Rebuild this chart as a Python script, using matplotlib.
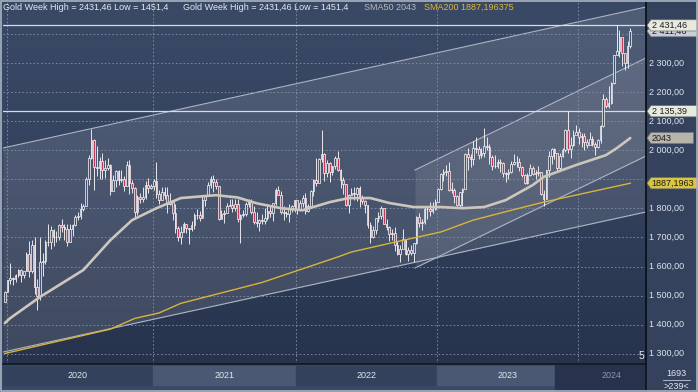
import numpy as np
import matplotlib
matplotlib.use("Agg")
import matplotlib.pyplot as plt
from matplotlib.patches import Polygon, Rectangle
from matplotlib.colors import LinearSegmentedColormap
from matplotlib.transforms import blended_transform_factory

plt.rcParams['font.family'] = ['Liberation Sans', 'DejaVu Sans']

# ---------------- data (weekly gold OHLC) ----------------
first_open = 1478.0
# last week of 2019
high_2019 = [1514]
low_2019 = [1478]
close_2019 = [1511]
# 2020 (54 bars)
high_2020 = [1555, 1611, 1563, 1575, 1590, 1591, 1584, 1649, 1689, 1692, 1703, 1558, 1703, 1645, 1690, 1747,
             1739, 1730, 1722, 1745, 1765, 1745, 1745, 1745, 1746, 1779, 1789, 1818, 1815, 1909, 1984, 2075,
             2040, 2016, 1976, 1992, 1966, 1973, 1955, 1917, 1933, 1933, 1932, 1911, 1965, 1966, 1898, 1875,
             1848, 1855, 1875, 1896, 1906, 1884]
low_2020 = [1517, 1540, 1536, 1546, 1563, 1547, 1562, 1584, 1563, 1576, 1504, 1451.4, 1484, 1567, 1610, 1672,
            1660, 1670, 1685, 1692, 1718, 1693, 1671, 1685, 1705, 1741, 1760, 1763, 1791, 1808, 1882, 1972,
            1863, 1911, 1903, 1901, 1906, 1933, 1848, 1873, 1873, 1882, 1890, 1860, 1877, 1850, 1854, 1764,
            1776, 1820, 1822, 1833, 1855, 1867]
close_2020 = [1552, 1562, 1557, 1571, 1589, 1570, 1584, 1643, 1585, 1674, 1530, 1498, 1617, 1620, 1683, 1683,
              1726, 1700, 1703, 1743, 1735, 1730, 1684, 1730, 1743, 1771, 1775, 1798, 1810, 1902, 1975, 2035,
              1944, 1940, 1964, 1934, 1940, 1950, 1862, 1899, 1930, 1899, 1902, 1879, 1951, 1888, 1871, 1788,
              1839, 1832, 1839, 1881, 1872, 1877]
# 2021 (53 bars)
high_2021 = [1900, 1959, 1865, 1875, 1875, 1875, 1855, 1824, 1816, 1739, 1740, 1755, 1745, 1733, 1758, 1785,
             1798, 1790, 1843, 1846, 1890, 1913, 1916, 1903, 1878, 1795, 1795, 1818, 1834, 1832, 1832, 1832,
             1782, 1795, 1823, 1834, 1834, 1809, 1787, 1765, 1781, 1800, 1814, 1813, 1818, 1870, 1877, 1859,
             1808, 1792, 1815, 1812, 1831]
low_2021 = [1863, 1835, 1817, 1829, 1832, 1785, 1812, 1761, 1717, 1687, 1676, 1718, 1714, 1678, 1724, 1730,
            1763, 1756, 1771, 1808, 1843, 1869, 1856, 1866, 1761, 1767, 1750, 1783, 1810, 1789, 1791, 1753,
            1682, 1770, 1773, 1806, 1782, 1745, 1737, 1721, 1746, 1745, 1759, 1770, 1758, 1812, 1845, 1782,
            1762, 1772, 1753, 1788, 1789]
close_2021 = [1895, 1849, 1828, 1856, 1848, 1814, 1824, 1784, 1734, 1700, 1719, 1745, 1732, 1729, 1744, 1777,
              1777, 1768, 1831, 1844, 1881, 1903, 1892, 1877, 1764, 1781, 1783, 1808, 1812, 1802, 1814, 1763,
              1779, 1781, 1817, 1827, 1787, 1754, 1750, 1761, 1757, 1768, 1793, 1783, 1818, 1864, 1846, 1788,
              1783, 1782, 1798, 1809, 1829]
# 2022 (52 bars)
high_2022 = [1831, 1831, 1848, 1853, 1815, 1865, 1902, 1974, 1973, 2070, 1993, 1966, 1960, 1948, 1982, 1998,
             1936, 1910, 1884, 1849, 1870, 1875, 1875, 1879, 1848, 1830, 1813, 1752, 1739, 1767, 1788, 1807,
             1802, 1765, 1740, 1729, 1735, 1688, 1675, 1730, 1690, 1667, 1675, 1682, 1774, 1786, 1765, 1805,
             1804, 1824, 1823, 1833]
low_2022 = [1782, 1791, 1805, 1780, 1788, 1807, 1842, 1878, 1890, 1960, 1895, 1910, 1890, 1915, 1937, 1931,
            1872, 1850, 1807, 1786, 1845, 1829, 1826, 1805, 1816, 1785, 1732, 1681, 1698, 1711, 1754, 1765,
            1745, 1727, 1688, 1691, 1654, 1639, 1615, 1660, 1640, 1618, 1638, 1617, 1678, 1737, 1727, 1748,
            1765, 1773, 1784, 1796]
close_2022 = [1797, 1818, 1835, 1791, 1808, 1859, 1898, 1889, 1970, 1988, 1921, 1958, 1925, 1946, 1975, 1932,
              1897, 1883, 1811, 1846, 1853, 1850, 1872, 1839, 1827, 1811, 1742, 1703, 1727, 1766, 1775, 1802,
              1747, 1737, 1712, 1716, 1675, 1644, 1660, 1695, 1644, 1657, 1645, 1681, 1771, 1751, 1755, 1797,
              1797, 1793, 1798, 1824]
# 2023 (52 bars)
high_2023 = [1870, 1922, 1937, 1949, 1960, 1891, 1870, 1848, 1858, 1870, 1990, 2009, 1988, 2032, 2048, 2015,
             2009, 2079, 2048, 2022, 1985, 1983, 1971, 1970, 1959, 1925, 1935, 1963, 1987, 1982, 1975, 1948,
             1918, 1922, 1953, 1945, 1932, 1947, 1925, 1865, 1933, 1997, 2009, 2007, 1993, 1993, 2008, 2075,
             2135.39, 2047, 2071, 2088]
low_2023 = [1824, 1865, 1896, 1911, 1861, 1853, 1819, 1809, 1805, 1810, 1867, 1934, 1944, 1950, 1992, 1969,
            1974, 1977, 2001, 1952, 1932, 1938, 1941, 1925, 1910, 1893, 1903, 1922, 1951, 1942, 1929, 1910,
            1885, 1885, 1913, 1915, 1901, 1913, 1846, 1810, 1834, 1908, 1953, 1970, 1931, 1933, 1976, 1995,
            1993, 1974, 2016, 2058]
close_2023 = [1866, 1920, 1926, 1928, 1865, 1865, 1842, 1811, 1856, 1868, 1989, 1978, 1969, 2008, 2004, 1983,
              1990, 2017, 2011, 1977, 1946, 1948, 1961, 1958, 1921, 1919, 1925, 1955, 1962, 1959, 1943, 1914,
              1889, 1914, 1940, 1919, 1924, 1925, 1849, 1833, 1932, 1981, 2006, 1993, 1940, 1981, 2002, 2072,
              2004, 2019, 2053, 2063]
# 2024 (20 bars)
high_2024 = [2079, 2062, 2059, 2041, 2065, 2050, 2031, 2041, 2088, 2195, 2183, 2222, 2236, 2330, 2431.46, 2417,
             2353, 2330, 2378, 2422]
low_2024 = [2024, 2013, 2002, 2010, 2031, 2015, 1984, 2010, 2025, 2080, 2146, 2146, 2160, 2229, 2331, 2324,
            2291, 2277, 2286, 2353]
close_2024 = [2045, 2049, 2029, 2018, 2039, 2024, 2013, 2035, 2083, 2179, 2155, 2165, 2233, 2330, 2344, 2391,
              2337, 2302, 2360, 2411.46]

years = [2020, 2021, 2022, 2023, 2024]

# moving averages (bar number, value)
sma50_bar = [0, 2, 13, 29, 39, 47, 56, 65, 78, 86, 93, 102, 110, 120, 127, 135, 142, 151, 161, 169, 177, 185,
             195, 199, 211, 222, 226, 231]
sma50_val = [1405, 1422, 1495, 1588, 1691, 1760, 1801, 1836, 1846, 1838, 1818, 1801, 1794, 1822, 1836, 1836,
             1819, 1805, 1805, 1801, 1805, 1829, 1881, 1909, 1950, 1984, 2008, 2043]
sma200_bar = [0, 39, 48, 57, 65, 95, 123, 128, 144, 161, 173, 190, 199, 231]
sma200_val = [1300, 1384, 1421, 1440, 1473, 1545, 1633, 1650, 1684, 1719, 1760, 1801, 1822, 1887.196375]

# drawn trend channels (bar number, price) at their two ends
chanA_bar = [-0.67, 236.8]
chanA_upper = [2008.6, 2494.8]
chanA_lower = [1305.0, 1788.0]
chanB_bar = [151.5, 236.8]
chanB_upper = [1932.8, 2319.0]
chanB_lower = [1594.8, 1981.0]

level_high = 2431.46
level_mid = 2135.39
sma50_last = 2043
sma200_label = '1887,1963'
price_ticks = list(range(1300, 2500, 100))

# ---------------- assemble ----------------
high = np.array(high_2019 + high_2020 + high_2021 + high_2022 + high_2023 + high_2024, float)
low = np.array(low_2019 + low_2020 + low_2021 + low_2022 + low_2023 + low_2024, float)
close = np.array(close_2019 + close_2020 + close_2021 + close_2022 + close_2023 + close_2024, float)
opn = np.concatenate([[first_open], close[:-1]])  # weekly open = previous week's close
n = len(close)
xb = np.arange(n)
counts = [len(close_2019), len(close_2020), len(close_2021), len(close_2022), len(close_2023), len(close_2024)]
year_first = np.cumsum(counts)[:-1]  # first bar of 2020..2024

W, H = 698, 392
fig = plt.figure(figsize=(W / 100, H / 100), dpi=100, facecolor='#3a4864')

ax = fig.add_axes([3 / W, 1 - 364 / H, 643 / W, 363 / H])
xlim = (-0.67, 236.8)
ylim = (1263.8, 2515.5)

bg = LinearSegmentedColormap.from_list('bg', ['#3a4966', '#34425e', '#27334c'])
ax.imshow(np.linspace(0, 1, 256).reshape(-1, 1), cmap=bg, aspect='auto', extent=(0, 1, 0, 1),
          transform=ax.transAxes, zorder=0)

# channel A
ax.fill_between(chanA_bar, chanA_upper, chanA_lower, color='white', alpha=0.11, lw=0, zorder=1)
ax.plot(chanA_bar, chanA_upper, color='#aeb6c4', lw=0.8, zorder=2)
ax.plot(chanA_bar, chanA_lower, color='#aeb6c4', lw=0.8, zorder=2)
# channel B
ax.fill_between(chanB_bar, chanB_upper, chanB_lower, color='white', alpha=0.09, lw=0, zorder=1)
ax.plot(chanB_bar, chanB_upper, color='#aeb6c4', lw=0.8, zorder=2)
ax.plot(chanB_bar, chanB_lower, color='#aeb6c4', lw=0.8, zorder=2)

# grid
for p in price_ticks:
    ax.axhline(p, color='#8390a6', lw=0.6, ls=(0, (2, 2.5)), zorder=2)
for b in year_first:
    ax.axvline(b - 0.3, color='#8390a6', lw=0.6, ls=(0, (2, 2.5)), zorder=2)

ax.axhline(level_high, color='#d8dce2', lw=0.9, zorder=3)
ax.axhline(level_mid, color='#d8dce2', lw=0.9, zorder=3)

# candles
up = close >= opn
ax.vlines(xb, low, high, color='white', lw=0.6, zorder=5)
body_lo = np.minimum(opn, close)
body_h = np.maximum(np.abs(close - opn), 2.0)
ax.bar(xb, body_h, bottom=body_lo, width=0.62, color=np.where(up, '#45526d', '#c23a55'),
       edgecolor='white', linewidth=0.5, zorder=6)

# moving averages
ax.plot(sma200_bar, sma200_val, color='#d9b43a', lw=1.0, zorder=7)
ax.plot(sma50_bar, sma50_val, color='#cdc6bc', lw=1.9, zorder=7, solid_capstyle='round')

ax.set_xlim(*xlim)
ax.set_ylim(*ylim)
ax.set_xticks([])
ax.set_yticks([])
for s in ['top', 'left', 'right']:
    ax.spines[s].set_visible(False)
ax.spines['bottom'].set_color('#111822')
ax.spines['bottom'].set_linewidth(1.2)

ax.text(236.0, 1290, '5', color='#e8ecf0', fontsize=7.5, ha='right', va='center', zorder=9)

# legend texts
fig.text(3 / W, 1 - 7 / H, 'Gold Week High = 2431,46 Low = 1451,4', color='#e6e9ee', fontsize=6.5, va='center')
fig.text(183 / W, 1 - 7 / H, 'Gold Week High = 2431,46 Low = 1451,4', color='#e6e9ee', fontsize=6.5, va='center')
fig.text(364 / W, 1 - 7 / H, 'SMA50 2043', color='#b9b9bb', fontsize=6.5, va='center')
fig.text(424 / W, 1 - 7 / H, 'SMA200 1887,196375', color='#d8b63e', fontsize=6.5, va='center')

# right price axis
rax = fig.add_axes([646 / W, 1 - 364 / H, 52 / W, 363 / H])
rax.set_facecolor('#34425e')
rax.set_xlim(0, 52)
rax.set_ylim(*ylim)
rax.set_xticks([])
rax.set_yticks([])
for s in ['top', 'right', 'bottom']:
    rax.spines[s].set_visible(False)
rax.spines['left'].set_color('#0d121a')
rax.spines['left'].set_linewidth(1.3)


def fmt(v):
    return f'{v:,.2f}'.replace(',', ' ').replace('.', ',')


px_per_price = 363 / (ylim[1] - ylim[0])
hh = 5.6 / px_per_price

callout_prices = [close[-1], level_high, level_mid, sma50_last, 1887.196375]
for p in price_ticks:
    # tick labels covered by a price callout are not shown
    if min(abs(p - c) for c in callout_prices) * px_per_price < 10:
        continue
    rax.text(3.3, p, fmt(p), color='#dfe3ea', fontsize=6.5, va='center', ha='left', zorder=2)


def callout(price, label, face, right=51.5, tcol='#1a1d24', z=5):
    poly = Polygon([(1, price), (5, price + hh), (right, price + hh), (right, price - hh), (5, price - hh)],
                   closed=True, facecolor=face, edgecolor='#6d737c', lw=0.5, zorder=z, clip_on=False)
    rax.add_patch(poly)
    rax.text(5.5, price, label, color=tcol, fontsize=6.5, va='center', ha='left', zorder=z, clip_on=False)


callout(close[-1], fmt(close[-1]), '#c9ced6', z=5)
callout(level_high, fmt(level_high), '#e7eadc', z=6)
callout(level_mid, fmt(level_mid), '#e7eadc')
callout(sma50_last, f'{sma50_last}', '#b8b3ab', right=47.5)
callout(1887.196375, sma200_label, '#d9c53e', right=52)

# overlay for bottom band
pax = fig.add_axes([0, 0, 1, 1], zorder=-1)
pax.set_xlim(0, W)
pax.set_ylim(H, 0)
pax.axis('off')
trans = blended_transform_factory(ax.transData, pax.transData)
bounds = list(year_first - 0.3) + [xlim[1]]
sec_cols = ['#33415c', '#4b5874', '#33415c', '#4b5874', '#33415c']
pax.add_patch(Rectangle((0, 364), W, 28, color='#3b4965', zorder=0))
for i, yr in enumerate(years):
    x0 = xlim[0] if i == 0 else bounds[i]
    x1 = bounds[i + 1]
    pax.add_patch(Rectangle((x0, 366), x1 - x0, 19, transform=trans, color=sec_cols[i], zorder=1))
pax.add_patch(Rectangle((555, 365), 91, 27, color='#27334c', zorder=2))
for i, yr in enumerate(years):
    x0 = xlim[0] if i == 0 else bounds[i]
    x1 = bounds[i + 1]
    pax.text((x0 + x1) / 2, 375, str(yr), transform=trans, ha='center', va='center', fontsize=6.5,
             color='#8c96a8' if yr == 2024 else '#e4e8ee', zorder=3)
pax.add_patch(Rectangle((646, 364), 52, 28, color='#34425e', zorder=2))
pax.text(676, 373, '1693', ha='center', va='center', fontsize=6.5, color='#e4e8ee', zorder=3)
pax.plot([663, 690], [380, 380], color='#c8ccd4', lw=0.6, zorder=3)
pax.text(676, 386.5, '>239<', ha='center', va='center', fontsize=6.5, color='#e4e8ee', zorder=3)
pax.plot([646, 646], [364, 392], color='#0d121a', lw=1.2, zorder=3)

frame = fig.add_axes([0, 0, 1, 1], zorder=10)
frame.set_xlim(0, W)
frame.set_ylim(H, 0)
frame.axis('off')
frame.add_patch(Rectangle((0.6, 0.6), W - 1.2, H - 1.2, fill=False, edgecolor='#a9b3c2', lw=1.2))

fig.savefig('out.png', dpi=100, facecolor=fig.get_facecolor())
